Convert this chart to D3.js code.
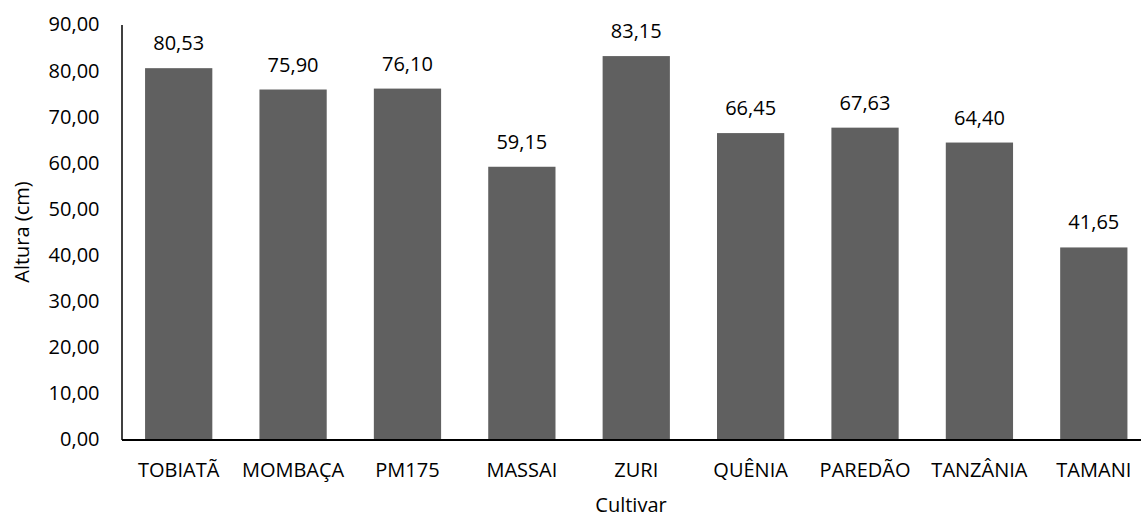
<!DOCTYPE html>
<html>
<head>
<meta charset="utf-8">
<script src="https://cdn.jsdelivr.net/npm/d3@7"></script>
<style>
  body { margin: 0; background: #fff; }
  text { font-family: "Open Sans", "Noto Sans", sans-serif; fill: #000; }
</style>
</head>
<body>
<div id="chart"></div>
<script>
// dados
var cultivares = ["TOBIATÃ", "MOMBAÇA", "PM175", "MASSAI", "ZURI", "QUÊNIA", "PAREDÃO", "TANZÂNIA", "TAMANI"];
var alturas = [80.53, 75.90, 76.10, 59.15, 83.15, 66.45, 67.63, 64.40, 41.65];
var yTicks = [0, 10, 20, 30, 40, 50, 60, 70, 80, 90];

var data = cultivares.map(function (c, i) { return { cultivar: c, altura: alturas[i] }; });

var W = 1141, H = 519;
var mLeft = 121.5, mRight = 1151, mTop = 24.5, mBottom = 439.5;
var fs = "20px";

// formato pt-BR: 80,53
function fmt(v) { return v.toFixed(2).replace(".", ","); }

var svg = d3.select("#chart").append("svg")
  .attr("width", W)
  .attr("height", H);

var x = d3.scaleBand()
  .domain(cultivares)
  .range([mLeft, mRight])
  .paddingInner(0.412)
  .paddingOuter(0.206);

var y = d3.scaleLinear()
  .domain([0, 90])
  .range([mBottom, mTop]);

// barras
svg.append("g")
  .selectAll("rect")
  .data(data)
  .enter().append("rect")
  .attr("x", function (d) { return x(d.cultivar); })
  .attr("y", function (d) { return y(d.altura); })
  .attr("width", x.bandwidth())
  .attr("height", function (d) { return mBottom - y(d.altura); })
  .attr("fill", "#606060");

// rotulos de valor
svg.append("g")
  .selectAll("text")
  .data(data)
  .enter().append("text")
  .attr("x", function (d) { return x(d.cultivar) + x.bandwidth() / 2; })
  .attr("y", function (d) { return y(d.altura) - 18; })
  .attr("text-anchor", "middle")
  .style("font-size", fs)
  .text(function (d) { return fmt(d.altura); });

// eixo Y
var yAxis = svg.append("g")
  .attr("transform", "translate(" + mLeft + ",0)")
  .call(d3.axisLeft(y).tickValues(yTicks).tickSize(0).tickPadding(22).tickFormat(fmt));
yAxis.select(".domain").attr("stroke", "#000").attr("stroke-width", 1.5);
yAxis.selectAll("text").style("font-size", fs).style("font-family", null);

// eixo X
var xAxis = svg.append("g")
  .attr("transform", "translate(0," + mBottom + ")")
  .call(d3.axisBottom(x).tickSize(0).tickPadding(23));
xAxis.select(".domain").attr("stroke", "#000").attr("stroke-width", 2);
xAxis.selectAll("text").style("font-size", fs).style("font-family", null);

// titulos
svg.append("text")
  .attr("transform", "translate(29," + ((mTop + mBottom) / 2) + ") rotate(-90)")
  .attr("text-anchor", "middle")
  .style("font-size", fs)
  .text("Altura (cm)");

svg.append("text")
  .attr("x", 631)
  .attr("y", 512)
  .attr("text-anchor", "middle")
  .style("font-size", fs)
  .text("Cultivar");
</script>
</body>
</html>
